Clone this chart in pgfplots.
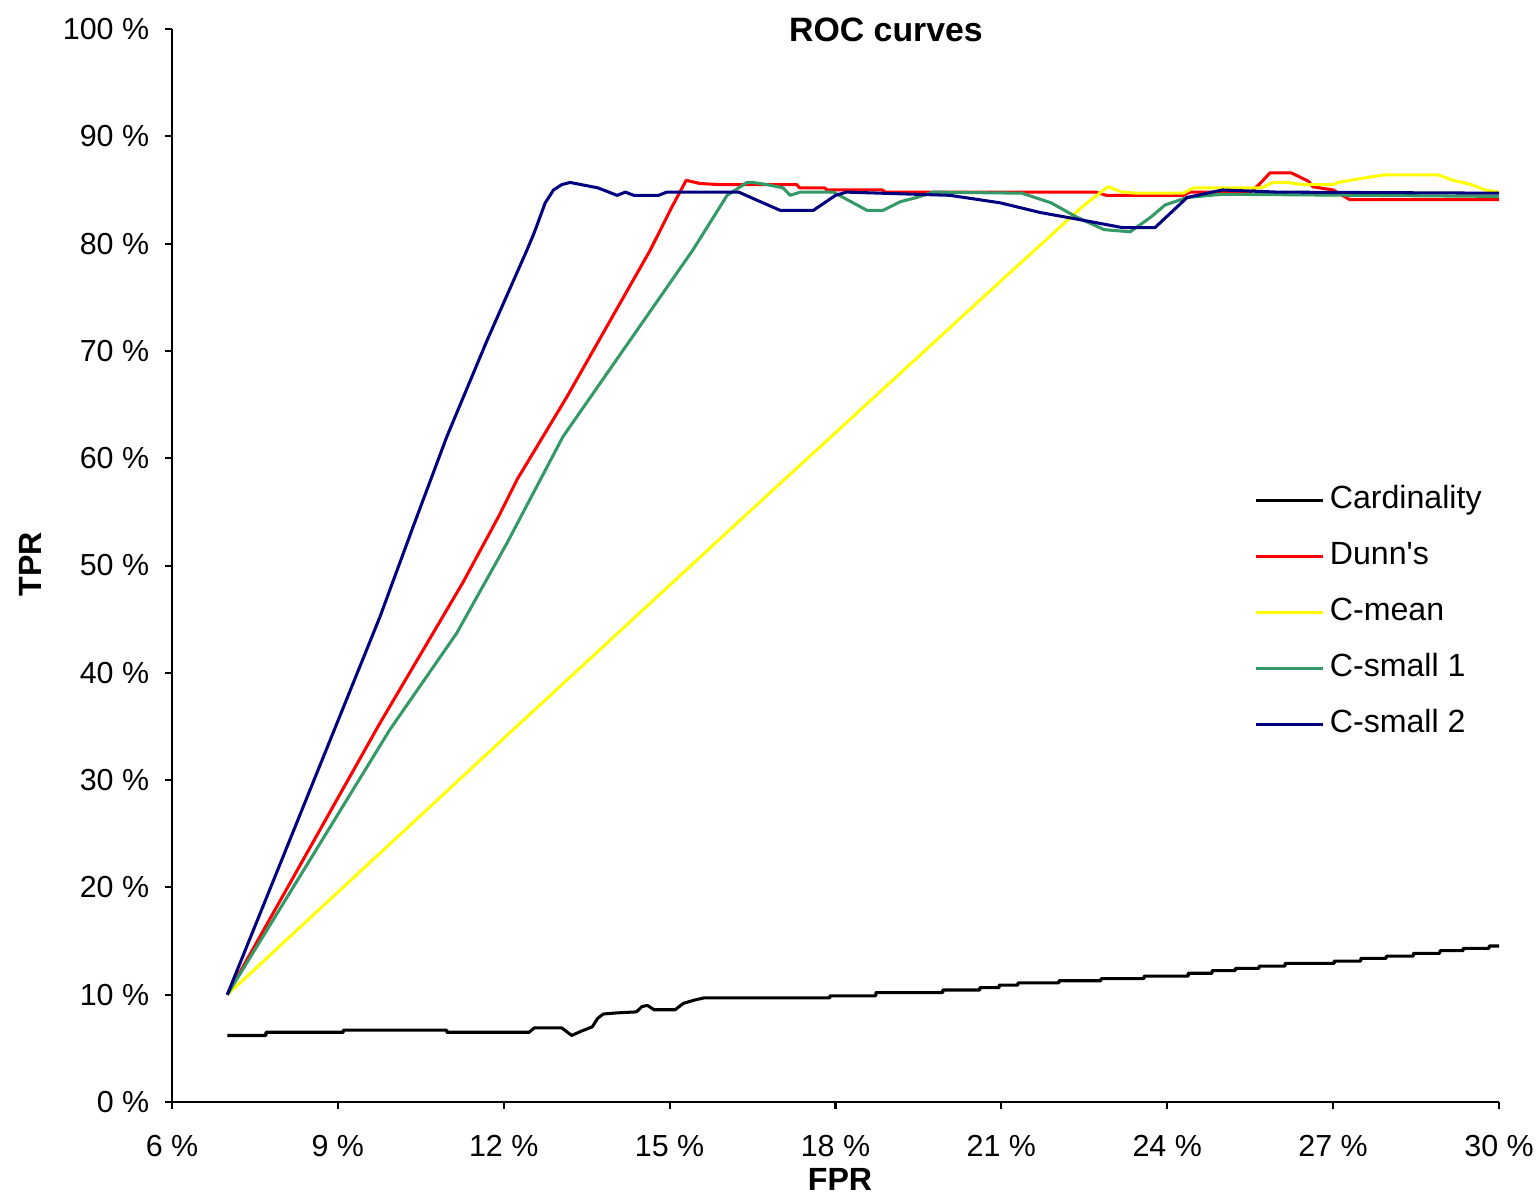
\documentclass[border=0pt]{standalone}
\usepackage{fontspec}
\setmainfont{Liberation Sans}
\usepackage{pgfplots}
\pgfplotsset{compat=1.18}
\definecolor{cred}{RGB}{255,0,0}
\definecolor{cyel}{RGB}{255,255,0}
\definecolor{cgreen}{RGB}{51,153,102}
\definecolor{cnavy}{RGB}{0,0,128}
\begin{document}
\begin{tikzpicture}
\useasboundingbox (0,0) rectangle (16cm,12.413cm);
\begin{axis}[
  at={(1.788cm,0.956cm)}, anchor=south west,
  scale only axis, width=13.796cm, height=11.155cm,
  xmin=6, xmax=30, ymin=0, ymax=100,
  axis x line*=bottom, axis y line*=left,
  axis line style={-, line width=0.6pt, black},
  xtick={6,9,...,30}, ytick={0,10,...,100},
  xticklabels={6 \%,9 \%,12 \%,15 \%,18 \%,21 \%,24 \%,27 \%,30 \%},
  yticklabels={0 \%,10 \%,20 \%,30 \%,40 \%,50 \%,60 \%,70 \%,80 \%,90 \%,100 \%},
  tick align=outside, major tick length=0.07cm,
  tick style={black, line width=0.6pt},
  ticklabel style={font=\fontsize{9}{10}\selectfont},
  xticklabel style={anchor=north, inner sep=0pt, yshift=-0.27cm},
  yticklabel style={anchor=east, inner sep=0pt, xshift=-0.16cm},
  legend style={draw=none, fill=none, at={(0.8154,0.576)}, anchor=north west,
    inner sep=0pt, row sep=7.3pt, column sep=0.06cm,
    font=\fontsize{9.5}{11}\selectfont,
    nodes={inner sep=0pt, text height=7pt, text depth=2.3pt}},
  legend cell align=left,
  legend image code/.code={\draw[#1, line width=0.9pt] (0cm,0cm) -- (0.69cm,0cm);},
  every axis plot/.append style={line width=0.9pt, line join=round},
]
\addplot[black] coordinates {(7.0,6.2)(7.7,6.2)(7.7,6.5)(9.1,6.5)(9.1,6.7)(10.97,6.7)(10.97,6.5)(12.46,6.5)(12.55,6.9)(13.05,6.9)(13.23,6.2)(13.4,6.6)(13.6,7.0)(13.7,7.8)(13.8,8.2)(14.03,8.3)(14.4,8.4)(14.5,8.9)(14.6,9.0)(14.72,8.6)(15.1,8.6)(15.25,9.2)(15.45,9.5)(15.62,9.7)(17.9,9.7)(17.9,9.9)(18.73,9.9)(18.73,10.2)(19.94,10.2)(19.94,10.44)(20.61,10.44)(20.61,10.66)(20.96,10.66)(20.96,10.9)(21.3,10.9)(21.3,11.1)(22.04,11.1)(22.04,11.3)(22.8,11.3)(22.8,11.5)(23.58,11.5)(23.58,11.74)(24.38,11.74)(24.38,12.0)(24.81,12.0)(24.81,12.24)(25.23,12.24)(25.23,12.46)(25.66,12.46)(25.66,12.67)(26.13,12.67)(26.13,12.92)(27.02,12.92)(27.02,13.14)(27.5,13.14)(27.5,13.39)(27.96,13.39)(27.96,13.6)(28.45,13.6)(28.45,13.86)(28.93,13.86)(28.93,14.1)(29.35,14.1)(29.35,14.32)(29.82,14.32)(29.82,14.54)(30,14.54)};
\addlegendentry{Cardinality}
\addplot[cred] coordinates {(7,10)(9.76,35.3)(11.26,48.4)(11.9,54.5)(12.24,58.0)(13.14,65.7)(14.65,79.4)(15.05,83.5)(15.3,85.9)(15.55,85.6)(15.9,85.5)(17.3,85.5)(17.35,85.2)(17.8,85.2)(17.85,85.0)(18.85,85.0)(18.9,84.8)(22.7,84.8)(22.9,84.5)(24.3,84.5)(24.4,84.8)(25.5,84.8)(25.66,85.5)(25.86,86.6)(26.24,86.6)(26.56,85.8)(26.63,85.3)(27.0,85.0)(27.3,84.1)(30,84.1)};
\addlegendentry{Dunn\textquotesingle s}
\addplot[cyel] coordinates {(7,10)(12.17,34.7)(16.27,54.2)(21.05,76.8)(22.5,83.6)(22.93,85.3)(23.18,84.8)(23.45,84.7)(24.29,84.7)(24.48,85.2)(25.71,85.2)(25.91,85.7)(26.17,85.7)(26.44,85.5)(27.0,85.5)(27.09,85.7)(27.54,86.1)(27.92,86.4)(28.9,86.4)(29.17,85.9)(29.5,85.5)(29.75,85.0)(30,84.8)};
\addlegendentry{C-mean}
\addplot[cgreen] coordinates {(7,10)(9.94,34.7)(11.15,43.7)(12.06,52.1)(13.07,62.0)(15.42,79.4)(16.04,84.5)(16.4,85.7)(16.51,85.7)(16.76,85.5)(17.05,85.2)(17.18,84.5)(17.36,84.8)(17.96,84.8)(18.14,84.3)(18.57,83.1)(18.86,83.1)(19.17,83.9)(19.47,84.3)(19.76,84.8)(21.37,84.7)(21.9,83.8)(22.35,82.5)(22.86,81.3)(23.33,81.1)(23.71,82.5)(23.96,83.6)(24.36,84.3)(25.0,84.6)(30,84.4)};
\addlegendentry{C-small 1}
\addplot[cnavy] coordinates {(7,10)(9.76,45.2)(10.36,53.6)(10.97,62.0)(11.7,71.0)(12.42,79.4)(12.55,81.0)(12.75,83.8)(12.9,85.0)(13.05,85.5)(13.2,85.7)(13.4,85.5)(13.7,85.2)(13.9,84.8)(14.05,84.5)(14.2,84.8)(14.35,84.5)(14.8,84.5)(14.95,84.8)(16.25,84.8)(16.6,84.0)(17.0,83.1)(17.6,83.1)(18.0,84.5)(18.2,84.8)(20.07,84.5)(20.98,83.8)(21.7,82.9)(22.35,82.3)(23.18,81.5)(23.78,81.5)(24.36,84.3)(25.0,85.0)(26,84.8)(30,84.7)};
\addlegendentry{C-small 2}
\end{axis}
\node[font=\bfseries\fontsize{10}{12}\selectfont] at (9.211cm,12.101cm) {ROC curves};
\node[font=\bfseries\fontsize{9.5}{11}\selectfont] at (8.733cm,0.146cm) {FPR};
\node[font=\bfseries\fontsize{9.5}{11}\selectfont, rotate=90] at (0.312cm,6.549cm) {TPR};
\end{tikzpicture}
\end{document}
